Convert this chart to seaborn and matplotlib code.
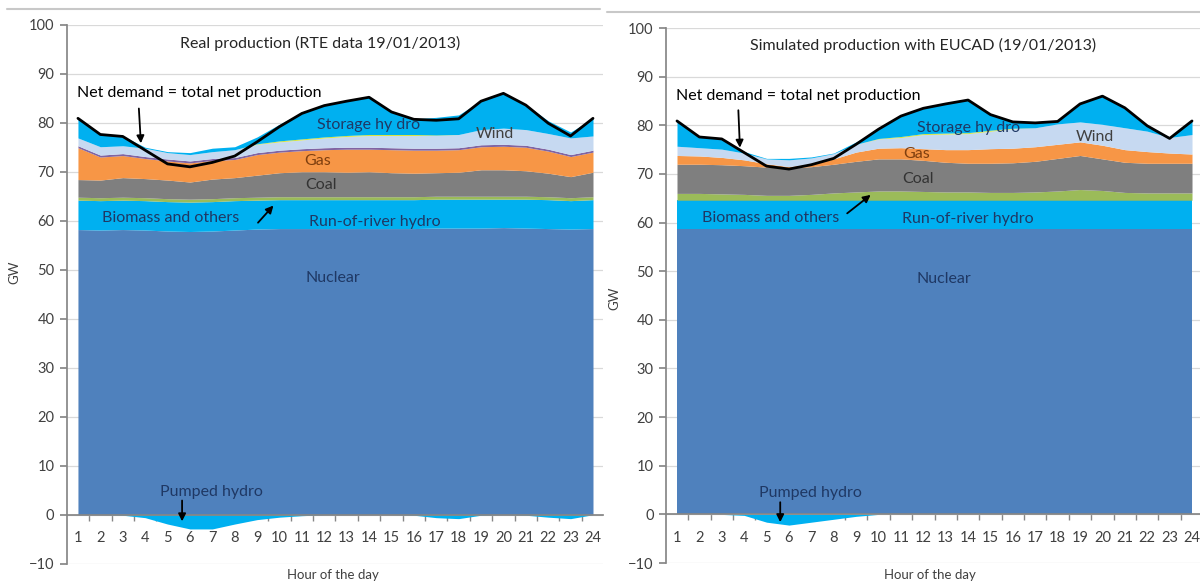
import numpy as np
import pandas as pd
import matplotlib.pyplot as plt
import seaborn as sns
from matplotlib.lines import Line2D

hours = list(range(1, 25))

# net demand = total net production (GW), same for both panels
net_demand = [80.9, 77.6, 77.2, 74.4, 71.6, 71.0, 71.9, 73.2, 76.1, 79.2, 81.9, 83.5,
              84.4, 85.2, 82.2, 80.7, 80.5, 80.8, 84.4, 86.0, 83.6, 79.9, 77.3, 80.9]

# real production, RTE data 19/01/2013 (GW)
rte_nuclear = [58.2, 58.1, 58.2, 58.1, 57.9, 57.8, 57.9, 58.1, 58.3, 58.4, 58.4, 58.4,
               58.4, 58.4, 58.4, 58.4, 58.5, 58.5, 58.5, 58.6, 58.5, 58.4, 58.3, 58.4]
rte_ror = [6.0, 6.0, 6.0, 6.0, 6.0, 6.0, 6.0, 6.0, 5.9, 5.9, 5.9, 5.9,
           5.9, 5.9, 5.9, 5.9, 5.9, 5.9, 5.9, 5.8, 5.9, 5.9, 5.8, 5.9]
rte_biomass = [0.6, 0.6, 0.6, 0.6, 0.6, 0.6, 0.6, 0.6, 0.6, 0.6, 0.6, 0.6,
               0.6, 0.6, 0.6, 0.6, 0.6, 0.6, 0.6, 0.6, 0.6, 0.6, 0.6, 0.6]
rte_coal = [3.6, 3.6, 4.0, 3.9, 3.8, 3.5, 4.0, 4.1, 4.5, 4.9, 5.1, 5.1,
            5.0, 5.1, 4.9, 4.8, 4.8, 4.9, 5.4, 5.4, 5.2, 4.8, 4.3, 5.0]
rte_gas = [6.5, 4.7, 4.5, 4.1, 3.9, 3.9, 3.8, 3.7, 4.2, 4.2, 4.3, 4.5,
           4.7, 4.6, 4.7, 4.7, 4.6, 4.6, 4.7, 4.8, 4.8, 4.5, 4.1, 4.1]
rte_other = [0.4, 0.4, 0.4, 0.4, 0.4, 0.4, 0.4, 0.4, 0.4, 0.4, 0.4, 0.4,
             0.4, 0.4, 0.4, 0.4, 0.4, 0.4, 0.4, 0.4, 0.4, 0.4, 0.4, 0.4]
rte_wind = [1.6, 1.7, 1.6, 1.7, 1.3, 1.3, 1.4, 1.6, 1.7, 1.7, 1.8, 2.0,
            2.2, 2.4, 2.5, 2.6, 2.6, 2.7, 3.1, 3.3, 3.2, 3.2, 3.4, 2.9]
rte_solar = [0, 0, 0, 0, 0, 0, 0, 0, 0.1, 0.2, 0.2, 0.2,
             0.2, 0.2, 0.2, 0.2, 0.1, 0, 0, 0, 0, 0, 0, 0]
rte_storage = [4.0, 2.5, 2.0, 0.2, 0.2, 0.4, 0.7, 0.6, 1.4, 3.4, 5.4, 6.4,
               7.0, 7.6, 4.6, 3.2, 3.6, 4.0, 5.9, 7.1, 5.1, 2.6, 1.2, 3.6]
rte_pumped = [0, 0, -0.1, -0.6, -1.9, -2.9, -2.9, -1.9, -1.0, -0.5, -0.2, 0,
              0, 0, 0, -0.1, -0.6, -0.8, -0.1, 0, -0.1, -0.5, -0.8, 0]

# simulated production with EUCAD (GW)
eu_nuclear = [58.6, 58.6, 58.6, 58.6, 58.6, 58.6, 58.6, 58.6, 58.6, 58.6, 58.6, 58.6,
              58.6, 58.6, 58.6, 58.6, 58.6, 58.6, 58.6, 58.6, 58.6, 58.6, 58.6, 58.6]
eu_ror = [6.0, 6.0, 6.0, 6.0, 6.0, 6.0, 6.0, 6.0, 6.0, 6.0, 6.0, 6.0,
          6.0, 6.0, 6.0, 6.0, 6.0, 6.0, 6.0, 6.0, 6.0, 6.0, 6.0, 6.0]
eu_biomass = [1.4, 1.4, 1.3, 1.2, 1.0, 1.0, 1.2, 1.5, 1.7, 1.9, 1.9, 1.8,
              1.7, 1.7, 1.6, 1.6, 1.7, 1.9, 2.2, 2.0, 1.6, 1.5, 1.5, 1.5]
eu_coal = [6.0, 6.0, 6.0, 5.9, 5.8, 5.6, 5.7, 5.9, 6.3, 6.6, 6.6, 6.4,
           6.1, 5.9, 6.0, 6.1, 6.3, 6.7, 7.0, 6.5, 6.2, 6.1, 6.1, 6.1]
eu_gas = [1.8, 1.7, 1.5, 1.2, 0.7, 0.3, 0.6, 1.1, 1.9, 2.2, 2.3, 2.4,
          2.6, 2.8, 3.0, 3.0, 3.0, 2.9, 2.8, 2.8, 2.6, 2.4, 2.1, 1.9]
eu_wind = [1.9, 1.7, 1.7, 1.4, 1.0, 1.4, 1.2, 1.1, 1.6, 1.9, 2.1, 2.9,
           3.2, 3.3, 3.6, 4.0, 3.9, 4.2, 4.1, 4.3, 4.5, 4.2, 3.2, 4.0]
eu_solar = [0, 0, 0, 0, 0, 0, 0, 0, 0, 0.1, 0.2, 0.2,
            0.2, 0.2, 0.2, 0.1, 0, 0, 0, 0, 0, 0, 0, 0]
eu_storage = [5.2, 2.2, 2.1, 0.3, 0.1, 0.3, 0.2, 0.1, 0.5, 1.9, 4.2, 5.2,
              6.0, 6.7, 3.2, 1.3, 1.0, 0.5, 3.7, 5.8, 4.1, 1.1, 0.1, 2.8]
eu_pumped = [0, 0, 0, -0.2, -1.6, -2.2, -1.6, -1.0, -0.4, 0, 0, 0,
             0, 0, 0, 0, 0, 0, 0, 0, 0, 0, 0, 0]

# 색상 (Excel 기본 팔레트 비슷하게)
c_nuclear = '#4f81bd'
c_hydro = '#00b0f0'
c_biomass = '#9bbb59'
c_coal = '#7f7f7f'
c_gas = '#f79646'
c_other = '#8064a2'
c_wind = '#c6d9f1'
c_solar = '#d7e43c'
navy = '#1f3864'
fs = 11.5

sns.set_theme(style='white')
plt.rcParams['font.family'] = ['Lato', 'DejaVu Sans']

fig = plt.figure(figsize=(12, 5.82), dpi=100)
ax1 = fig.add_axes([0.0558, 0.0314, 0.4467, 0.9261])
ax2 = fig.add_axes([0.555, 0.0326, 0.445, 0.9192])


def setup_axis(ax, xmax):
    ax.set_xlim(0.509, xmax)
    ax.set_ylim(-10, 100)
    ax.set_yticks(range(-10, 101, 10))
    ax.set_xticks(hours)
    ax.set_xticks(np.arange(1.5, 24, 1), minor=True)
    ax.set_axisbelow(True)
    ax.grid(axis='y', color='#d9d9d9', lw=0.9)
    ax.grid(axis='x', visible=False)
    for s in ['top', 'right']:
        ax.spines[s].set_visible(False)
    ax.spines['left'].set_color('#868686')
    ax.spines['bottom'].set_color('#868686')
    ax.spines['bottom'].set_position(('data', 0))
    ax.tick_params(axis='y', direction='out', length=5, color='#868686',
                   labelsize=10.5, labelcolor='#404040', left=True, pad=4)
    ax.tick_params(axis='x', which='major', length=0, labelsize=10.5,
                   labelcolor='#404040', pad=12)
    ax.tick_params(axis='x', which='minor', direction='out', length=4,
                   color='#868686', bottom=True)
    ax.set_xlabel('')
    ax.set_ylabel('')


def arrow(ax, x0, y0, x1, y1):
    ax.annotate('', xy=(x1, y1), xytext=(x0, y0),
                arrowprops=dict(arrowstyle='-|>', color='black', lw=1.3,
                                mutation_scale=11, shrinkA=0, shrinkB=0))


# 왼쪽: 실제 생산
setup_axis(ax1, 24.447)
ax1.stackplot(hours, rte_nuclear, rte_ror, rte_biomass, rte_coal, rte_gas,
              rte_other, rte_wind, rte_solar, rte_storage,
              colors=[c_nuclear, c_hydro, c_biomass, c_coal, c_gas,
                      c_other, c_wind, c_solar, c_hydro], lw=0)
ax1.fill_between(hours, 0, rte_pumped, color=c_hydro, lw=0)
sns.lineplot(x=hours, y=net_demand, ax=ax1, color='black', lw=2, zorder=5)

ax1.text(11.8, 96.1, 'Real production (RTE data 19/01/2013)', ha='center',
         va='center', fontsize=fs, color='#262626')
ax1.text(0.95, 86.1, 'Net demand = total net production', ha='left',
         va='center', fontsize=fs, color='black')
arrow(ax1, 3.72, 82.9, 3.81, 75.8)
ax1.text(14.0, 79.5, 'Storage hy dro', ha='center', va='center', fontsize=fs, color=navy)
ax1.text(19.6, 77.7, 'Wind', ha='center', va='center', fontsize=fs, color='#404040')
ax1.text(11.7, 72.2, 'Gas', ha='center', va='center', fontsize=fs, color='#7f3f0f')
ax1.text(11.85, 67.3, 'Coal', ha='center', va='center', fontsize=fs, color='#333333')
ax1.text(5.15, 60.5, 'Biomass and others', ha='center', va='center', fontsize=fs, color=navy)
arrow(ax1, 9.04, 59.6, 9.73, 63.1)
ax1.text(14.27, 59.8, 'Run-of-river hydro', ha='center', va='center', fontsize=fs, color=navy)
ax1.text(12.4, 48.3, 'Nuclear', ha='center', va='center', fontsize=fs, color=navy)
ax1.text(6.98, 4.7, 'Pumped hydro', ha='center', va='center', fontsize=fs, color=navy)
arrow(ax1, 5.65, 2.9, 5.65, -1.35)

# 오른쪽: EUCAD 시뮬레이션
setup_axis(ax2, 24.357)
ax2.stackplot(hours, eu_nuclear, eu_ror, eu_biomass, eu_coal, eu_gas,
              eu_wind, eu_solar, eu_storage,
              colors=[c_nuclear, c_hydro, c_biomass, c_coal, c_gas,
                      c_wind, c_solar, c_hydro], lw=0)
ax2.fill_between(hours, 0, eu_pumped, color=c_hydro, lw=0)
sns.lineplot(x=hours, y=net_demand, ax=ax2, color='black', lw=2, zorder=5)

ax2.text(12.0, 96.5, 'Simulated production with EUCAD (19/01/2013)', ha='center',
         va='center', fontsize=fs, color='#262626')
ax2.text(0.95, 86.0, 'Net demand = total net production', ha='left',
         va='center', fontsize=fs, color='black')
arrow(ax2, 3.74, 83.1, 3.81, 75.4)
ax2.text(14.0, 79.4, 'Storage hy dro', ha='center', va='center', fontsize=fs, color=navy)
ax2.text(19.67, 77.6, 'Wind', ha='center', va='center', fontsize=fs, color='#404040')
ax2.text(11.7, 74.1, 'Gas', ha='center', va='center', fontsize=fs, color='#7f3f0f')
ax2.text(11.75, 69.0, 'Coal', ha='center', va='center', fontsize=fs, color='#333333')
ax2.text(5.2, 60.9, 'Biomass and others', ha='center', va='center', fontsize=fs, color=navy)
arrow(ax2, 8.6, 61.9, 9.65, 65.7)
ax2.text(14.0, 60.8, 'Run-of-river hydro', ha='center', va='center', fontsize=fs, color=navy)
ax2.text(12.9, 48.4, 'Nuclear', ha='center', va='center', fontsize=fs, color=navy)
ax2.text(6.96, 4.5, 'Pumped hydro', ha='center', va='center', fontsize=fs, color=navy)
arrow(ax2, 5.61, 2.5, 5.61, -1.6)

# 축 제목
fig.text(14 / 1200, 1 - 272 / 582, 'GW', rotation=90, ha='center', va='center',
         fontsize=9.5, color='#404040')
fig.text(614 / 1200, 1 - 298 / 582, 'GW', rotation=90, ha='center', va='center',
         fontsize=9.5, color='#404040')
fig.text(333 / 1200, 1 - 575 / 582, 'Hour of the day', ha='center', va='center',
         fontsize=9.5, color='#404040')
fig.text(930 / 1200, 1 - 575 / 582, 'Hour of the day', ha='center', va='center',
         fontsize=9.5, color='#404040')

# 위쪽 테두리 선
fig.add_artist(Line2D([7 / 1200, 600 / 1200], [1 - 9 / 582] * 2, color='#c8c8c8', lw=1.5))
fig.add_artist(Line2D([607 / 1200, 1.0], [1 - 12 / 582] * 2, color='#c8c8c8', lw=1.5))

fig.savefig('out.png', dpi=100)
